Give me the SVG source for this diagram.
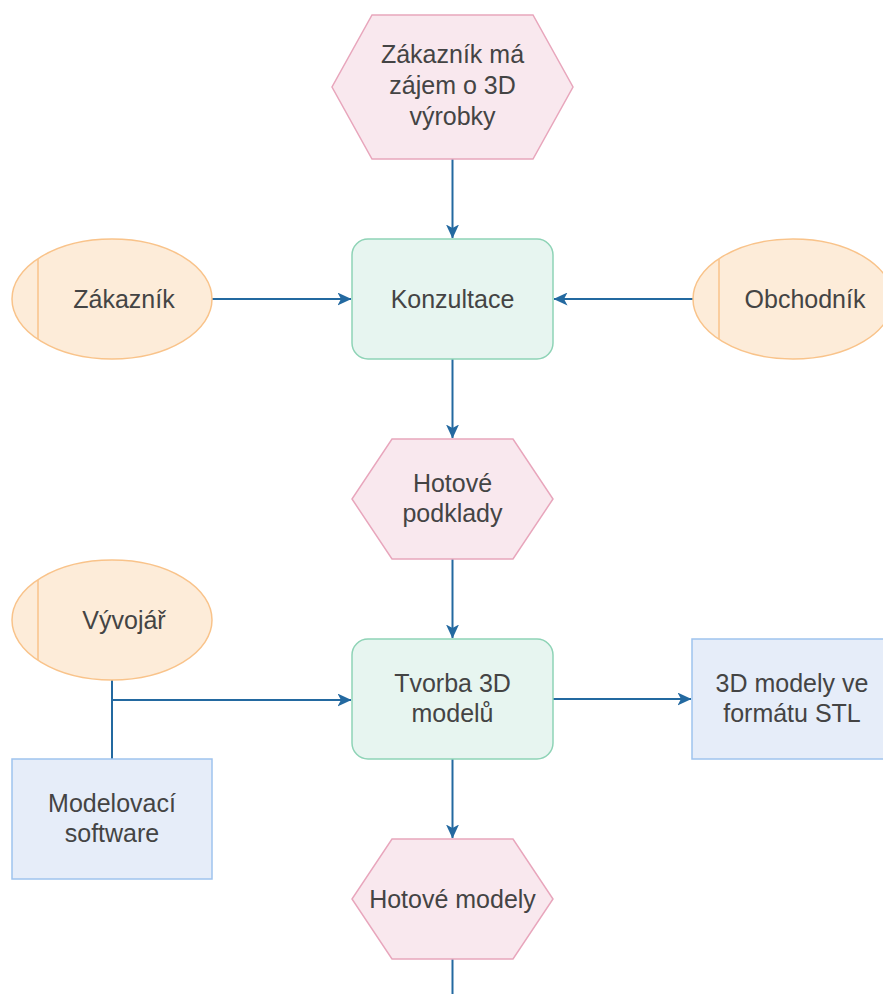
<svg xmlns="http://www.w3.org/2000/svg" width="883" height="994" viewBox="0 0 883 994">
<style>
.hex{fill:#f9e8ee;stroke:#e8a6bc;stroke-width:1.5}
.proc{fill:#e7f5f0;stroke:#8ed3b6;stroke-width:1.5}
.actor{fill:#fdecd9;stroke:#f9c38a;stroke-width:1.5}
.res{fill:#e6edf9;stroke:#9fc3ee;stroke-width:1.5}
.t{font-family:"Liberation Sans",Arial,sans-serif;font-size:25px;fill:#444;text-anchor:middle}
.edge{fill:none;stroke:#2369a0;stroke-width:2}
</style>
<defs>
<marker id="arr" viewBox="0 0 14 13" refX="13.5" refY="6.5" markerWidth="14" markerHeight="13" markerUnits="userSpaceOnUse" orient="auto">
<path d="M0,0 L14,6.5 L0,13 L3.5,6.5 Z" fill="#2369a0"/>
</marker>
</defs>
<g id="connectors">
<path class="edge" d="M452.5,159 V238" marker-end="url(#arr)"/>
<path class="edge" d="M212,299 H351" marker-end="url(#arr)"/>
<path class="edge" d="M693,299 H554" marker-end="url(#arr)"/>
<path class="edge" d="M452.5,359 V438" marker-end="url(#arr)"/>
<path class="edge" d="M452.5,559 V638" marker-end="url(#arr)"/>
<path class="edge" d="M112,680 V700 H351" marker-end="url(#arr)"/>
<path class="edge" d="M112,759 V700"/>
<path class="edge" d="M553,699 H691" marker-end="url(#arr)"/>
<path class="edge" d="M452.5,759 V838" marker-end="url(#arr)"/>
<path class="edge" d="M452.5,959 V994"/>
</g>
<g id="n-zajem">
<polygon class="hex" points="372,15 533,15 573,87 533,159 372,159 332,87"/>
<text class="t" x="452.5" y="63">Zákazník má</text>
<text class="t" x="452.5" y="94">zájem o 3D</text>
<text class="t" x="452.5" y="125">výrobky</text>
</g>
<g id="n-zakaznik">
<ellipse class="actor" cx="112" cy="299" rx="100" ry="60"/>
<line class="actor" x1="38" y1="259" x2="38" y2="339"/>
<text class="t" x="124" y="308">Zákazník</text>
</g>
<g id="n-konzultace">
<rect class="proc" x="352" y="239" width="201" height="120" rx="16"/>
<text class="t" x="452.5" y="308">Konzultace</text>
</g>
<g id="n-obchodnik">
<ellipse class="actor" cx="793" cy="299" rx="100" ry="60"/>
<line class="actor" x1="719" y1="259" x2="719" y2="339"/>
<text class="t" x="805" y="308">Obchodník</text>
</g>
<g id="n-podklady">
<polygon class="hex" points="392,439 513,439 553,499 513,559 392,559 352,499"/>
<text class="t" x="452.5" y="492">Hotové</text>
<text class="t" x="452.5" y="522">podklady</text>
</g>
<g id="n-vyvojar">
<ellipse class="actor" cx="112" cy="620" rx="100" ry="60"/>
<line class="actor" x1="38" y1="580" x2="38" y2="660"/>
<text class="t" x="124" y="629">Vývojář</text>
</g>
<g id="n-tvorba">
<rect class="proc" x="352" y="639" width="201" height="120" rx="16"/>
<text class="t" x="452.5" y="692">Tvorba 3D</text>
<text class="t" x="452.5" y="722">modelů</text>
</g>
<g id="n-stl">
<rect class="res" x="692" y="639" width="200" height="120"/>
<text class="t" x="792" y="692">3D modely ve</text>
<text class="t" x="792" y="722">formátu STL</text>
</g>
<g id="n-software">
<rect class="res" x="12" y="759" width="200" height="120"/>
<text class="t" x="112" y="812">Modelovací</text>
<text class="t" x="112" y="842">software</text>
</g>
<g id="n-modely">
<polygon class="hex" points="392,839 513,839 553,899 513,959 392,959 352,899"/>
<text class="t" x="452.5" y="908">Hotové modely</text>
</g>
</svg>
